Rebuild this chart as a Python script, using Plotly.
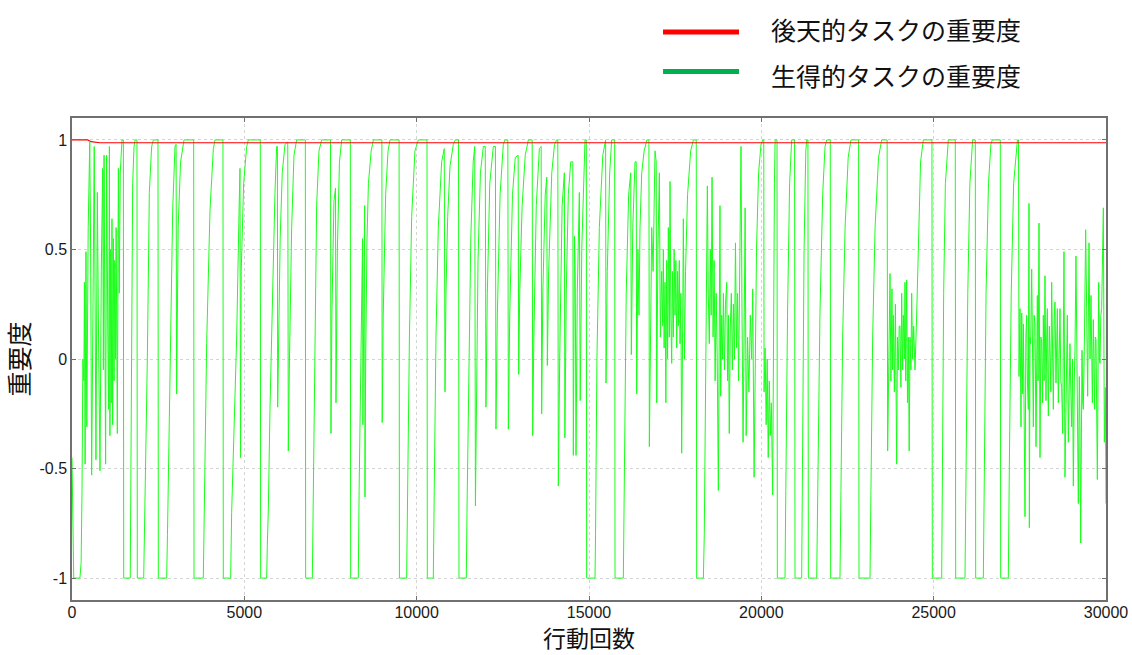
import plotly.graph_objects as go

# ---------------- text / ticks ----------------
X_TICKS = [0, 5000, 10000, 15000, 20000, 25000, 30000]
Y_TICKS = [-1, -0.5, 0, 0.5, 1]
Y_TICK_TEXT = ["-1", "-0.5", "0", "0.5", "1"]
X_TITLE = "行動回数"
Y_TITLE = "重要度"
NAME_ACQ = "後天的タスクの重要度"
NAME_INNATE = "生得的タスクの重要度"

# ---------------- acquired-task importance (red) ----------------
RED_X = [0, 450, 560, 800, 30000]
RED_Y = [1.0, 1.0, 0.992, 0.987, 0.987]

# ---------------- innate-task importance (green) ----------------
SEG_0_1500 = [(0, -0.45), (50, -1.0), (230, -1.0), (265, -0.93), (290, -0.6), (315, 0.0), (345, -0.1),
              (360, 0.35), (380, -0.48), (405, 0.49), (430, -0.31), (470, 0.6), (515, 0.99), (540, 0.5),
              (570, -0.53), (600, 0.2), (645, 0.97), (695, -0.46), (735, 0.76), (770, 0.1), (812, -0.51),
              (850, 0.4), (890, 0.87), (910, -0.05), (930, 0.93), (975, -0.48), (1005, 0.93), (1040, 0.1),
              (1064, -0.23), (1085, 0.97), (1100, -0.35), (1120, 0.5), (1140, -0.2), (1160, 0.64),
              (1180, -0.3), (1200, 0.55), (1220, -0.1), (1240, 0.45), (1260, 0.0), (1280, 0.6),
              (1315, -0.34), (1345, 0.87), (1370, 0.3), (1400, 0.85), (1430, 0.99), (1450, 1.0),
              (1490, 1.0), (1500, -1.0)]
SEG_1500_5500 = [(1690, -1.0), (1705, -0.5), (1730, 0.3), (1760, 0.8), (1800, 0.97), (1830, 1.0), (1885, 1.0),
                 (1895, -1.0), (2080, -1.0), (2118, -0.7), (2186, 0.0), (2244, 0.76), (2311, 0.97), (2360, 1.0),
                 (2495, 1.0), (2505, -1.0), (2747, -1.0), (2770, -0.8), (2795, -0.54), (2843, 0.07),
                 (2921, 0.68), (2988, 0.97), (3020, 0.98), (3035, -0.16), (3050, 0.2), (3080, 0.6),
                 (3150, 0.9), (3250, 1.0), (3530, 1.0), (3540, -1.0), (3810, -1.0), (3859, -0.54),
                 (3907, 0.07), (4004, 0.68), (4101, 0.96), (4149, 1.0), (4380, 1.0), (4390, -1.0),
                 (4603, -1.0), (4632, -0.7), (4681, -0.4), (4778, 0.1), (4850, 0.7), (4874, 0.87),
                 (4890, -0.45), (4910, 0.4), (4980, 0.8), (5068, 0.97), (5116, 1.0), (5463, 1.0), (5473, -1.0)]
SEG_5500_11300 = [(5648, -1.0), (5667, -0.85), (5696, -0.69), (5744, -0.23), (5822, 0.38), (5889, 0.76),
                  (5938, 0.97), (5960, 0.97), (5967, -0.22), (5990, 0.1), (6040, 0.55), (6100, 0.85),
                  (6180, 0.98), (6260, 0.99), (6276, -0.42), (6310, 0.0), (6373, 0.6), (6440, 0.93),
                  (6518, 1.0), (6770, 1.0), (6779, -1.0), (6973, -1.0), (7002, -0.6), (7050, 0.2),
                  (7098, 0.7), (7166, 0.95), (7243, 1.0), (7500, 1.0), (7514, -0.34), (7540, 0.2),
                  (7600, 0.72), (7645, 0.78), (7659, -0.2), (7700, 0.5), (7760, 0.9), (7824, 1.0),
                  (8075, 1.0), (8085, -1.0), (8307, -1.0), (8330, -0.6), (8380, 0.1), (8430, 0.55),
                  (8440, -0.3), (8460, 0.4), (8490, 0.7), (8500, -0.63), (8520, 0.0), (8560, 0.55),
                  (8600, 0.8), (8680, 0.95), (8742, 1.0), (8990, 1.0), (9000, -0.29), (9030, 0.2),
                  (9100, 0.75), (9170, 0.95), (9226, 1.0), (9490, 1.0), (9500, -1.0), (9709, -1.0),
                  (9740, -0.6), (9790, 0.1), (9855, 0.65), (9950, 0.95), (10048, 1.0), (10300, 1.0),
                  (10309, -1.0), (10483, -1.0), (10510, -0.6), (10560, 0.1), (10628, 0.6), (10725, 0.9),
                  (10800, 0.96), (10822, -0.15), (10850, 0.3), (10900, 0.65), (10967, 0.88), (11064, 0.98),
                  (11120, 1.0), (11215, 1.0), (11228, -1.0)]
SEG_11300_15000 = [(11440, -1.0), (11460, -0.7), (11510, 0.0), (11570, 0.55), (11640, 0.9), (11685, 0.97),
                   (11705, -0.67), (11730, -0.2), (11780, 0.45), (11850, 0.85), (11934, 0.97), (11990, 0.97),
                   (12010, -0.22), (12050, 0.3), (12120, 0.8), (12224, 0.97), (12285, 0.97), (12300, -0.32),
                   (12340, 0.2), (12420, 0.75), (12514, 0.98), (12563, 1.0), (12645, 1.0), (12660, -0.32),
                   (12700, 0.2), (12780, 0.75), (12860, 0.92), (12945, 0.93), (12960, -0.07), (12990, 0.3),
                   (13060, 0.7), (13150, 0.93), (13240, 1.0), (13352, 1.0), (13366, -0.35), (13400, 0.1),
                   (13470, 0.7), (13560, 0.96), (13612, 0.97), (13627, -0.25), (13660, 0.3), (13730, 0.75),
                   (13775, 0.83), (13791, -0.03), (13830, 0.4), (13920, 0.85), (14000, 0.98), (14062, 1.0),
                   (14095, 1.0), (14110, -0.58), (14150, 0.0), (14220, 0.7), (14285, 0.85), (14300, -0.36),
                   (14340, 0.3), (14400, 0.75), (14470, 0.9), (14530, 0.9), (14545, -0.44), (14580, 0.56),
                   (14600, 0.4), (14623, -0.44), (14660, 0.3), (14720, 0.76), (14745, -0.19), (14790, 0.5),
                   (14850, 0.9), (14884, 1.0), (14922, 1.0), (14932, -1.0)]
SEG_15000_20500 = [(15174, -1.0), (15190, -0.8), (15230, 0.0), (15300, 0.6), (15400, 0.93), (15464, 1.0),
                   (15482, 1.0), (15493, -0.11), (15530, 0.4), (15600, 0.85), (15658, 1.0), (15745, 1.0),
                   (15755, -1.0), (15996, -1.0), (16030, -0.5), (16080, 0.3), (16150, 0.75), (16210, 0.85),
                   (16228, 0.02), (16270, 0.6), (16335, 0.9), (16370, 0.9), (16383, -0.16), (16420, 0.5),
                   (16450, 0.2), (16480, 0.6), (16530, 0.85), (16600, 0.95), (16680, 1.0), (16738, 1.0),
                   (16751, -0.4), (16780, 0.0), (16820, 0.6), (16860, 0.4), (16915, 0.95), (16950, 0.9),
                   (16964, -0.2), (17000, 0.5), (17041, 0.85), (17070, 0.1), (17109, 0.4), (17140, 0.15),
                   (17157, 0.5), (17180, 0.05), (17205, 0.35), (17230, -0.2), (17254, 0.45), (17280, 0.0),
                   (17302, 0.6), (17330, 0.1), (17351, 0.81), (17375, 0.2), (17399, -0.02), (17420, 0.4),
                   (17447, 0.1), (17470, 0.5), (17496, 0.2), (17520, 0.45), (17544, 0.05), (17570, 0.4),
                   (17592, 0.15), (17620, 0.45), (17641, 0.07), (17665, 0.3), (17689, -0.43), (17720, 0.2),
                   (17737, 0.64), (17770, 0.0), (17800, 0.4), (17860, 0.75), (17950, 0.95), (18027, 1.0),
                   (18112, 1.0), (18124, -1.0), (18318, -1.0), (18345, -0.8), (18380, -0.1), (18410, 0.5),
                   (18434, 0.79), (18460, 0.3), (18490, 0.07), (18520, 0.5), (18545, 0.2), (18570, 0.83),
                   (18600, 0.1), (18630, 0.45), (18660, -0.1), (18690, 0.3), (18720, 0.0), (18753, -0.6),
                   (18780, 0.3), (18800, 0.7), (18820, -0.17), (18850, 0.2), (18880, 0.0), (18900, 0.3),
                   (18930, -0.05), (18960, 0.25), (18995, 0.35), (19020, -0.1), (19045, 0.2), (19070, -0.34),
                   (19100, 0.15), (19130, 0.3), (19160, -0.05), (19190, 0.25), (19220, 0.0), (19250, 0.53),
                   (19280, 0.05), (19310, 0.3), (19340, -0.1), (19381, 0.6), (19410, 0.97), (19440, 0.2),
                   (19470, -0.38), (19500, 0.1), (19530, 0.69), (19560, -0.35), (19600, 0.1), (19640, -0.15),
                   (19680, 0.2), (19720, 0.0), (19750, 0.32), (19790, -0.54), (19820, 0.0), (19860, 0.5),
                   (19920, 0.85), (19990, 0.98), (20040, 1.0), (20070, 1.0), (20080, -0.15), (20110, 0.05),
                   (20140, -0.3), (20170, 0.0), (20200, -0.45), (20230, -0.1), (20260, -0.35), (20290, -0.2),
                   (20329, -0.62), (20350, 0.2), (20380, 0.8), (20400, 1.0), (20455, 1.0), (20464, -1.0)]
SEG_20500_27500 = [(20687, -1.0), (20710, -0.6), (20760, 0.2), (20820, 0.8), (20880, 1.0), (20965, 1.0),
                   (20977, -1.0), (21170, -1.0), (21195, -0.4), (21240, 0.5), (21290, 0.95), (21316, 1.0),
                   (21352, 1.0), (21364, -1.0), (21606, -1.0), (21640, -0.6), (21700, 0.2), (21780, 0.75),
                   (21848, 0.97), (21896, 1.0), (22000, 1.0), (22011, -1.0), (22282, -1.0), (22310, -0.6),
                   (22360, 0.1), (22430, 0.6), (22520, 0.92), (22600, 1.0), (22822, 1.0), (22834, -1.0),
                   (23153, -1.0), (23180, -0.6), (23230, 0.1), (23300, 0.6), (23400, 0.92), (23491, 1.0),
                   (23650, 1.0), (23665, -0.42), (23700, 0.1), (23733, 0.39), (23760, -0.1), (23790, 0.32),
                   (23810, -0.05), (23830, 0.2), (23860, -0.15), (23890, 0.25), (23926, -0.48), (23950, 0.1),
                   (23975, -0.05), (24000, 0.15), (24023, 0.15), (24050, -0.13), (24072, 0.3), (24100, -0.05),
                   (24120, 0.2), (24150, 0.0), (24168, 0.35), (24190, -0.1), (24217, 0.36), (24240, -0.2),
                   (24265, 0.1), (24290, -0.42), (24313, 0.1), (24340, -0.05), (24362, 0.3), (24390, 0.0),
                   (24420, 0.15), (24458, -0.05), (24507, 0.2), (24560, 0.6), (24620, 0.9), (24700, 1.0),
                   (24950, 1.0), (24961, -1.0), (25232, -1.0), (25255, -0.5), (25290, 0.3), (25340, 0.8),
                   (25400, 0.98), (25425, 1.0), (25627, 1.0), (25638, -1.0), (25909, -1.0), (25940, -0.5),
                   (25990, 0.3), (26050, 0.8), (26103, 0.98), (26130, 1.0), (26208, 1.0), (26219, -1.0),
                   (26441, -1.0), (26470, -0.5), (26520, 0.3), (26590, 0.8), (26660, 0.98), (26700, 1.0),
                   (26933, 1.0), (26944, -1.0), (27166, -1.0), (27195, -0.5), (27250, 0.3), (27320, 0.8),
                   (27400, 0.98), (27430, 1.0), (27462, 1.0), (27476, -0.08)]
SEG_27500_30000 = [(27505, 0.23), (27534, -0.31), (27555, 0.21), (27584, -0.16), (27603, 0.16), (27622, -0.32),
                   (27650, -0.72), (27675, 0.1), (27698, 0.2), (27720, -0.1), (27747, -0.23), (27766, 0.71),
                   (27776, -0.77), (27795, 0.1), (27815, 0.07), (27844, 0.41), (27870, -0.1), (27892, -0.31),
                   (27915, 0.2), (27940, 0.16), (27969, -0.4), (27990, 0.1), (28008, 0.29), (28030, -0.1),
                   (28056, 0.62), (28085, -0.45), (28110, 0.1), (28134, 0.07), (28160, -0.2), (28182, 0.2),
                   (28205, -0.1), (28230, 0.38), (28259, -0.19), (28280, 0.1), (28298, 0.23), (28327, -0.26),
                   (28356, 0.15), (28375, 0.04), (28400, -0.15), (28424, 0.35), (28450, 0.0), (28472, -0.23),
                   (28500, 0.2), (28520, 0.26), (28549, -0.11), (28570, 0.1), (28588, 0.23), (28617, -0.2),
                   (28640, 0.1), (28665, 0.23), (28690, -0.1), (28714, -0.13), (28743, -0.34), (28781, 0.49),
                   (28810, -0.54), (28839, -0.2), (28860, 0.05), (28878, 0.2), (28907, -0.38), (28930, 0.0),
                   (28955, 0.07), (28980, -0.15), (29004, -0.31), (29030, 0.0), (29052, -0.58), (29080, -0.1),
                   (29100, 0.04), (29129, 0.47), (29168, -0.38), (29197, -0.66), (29226, -0.08), (29245, -0.3),
                   (29265, -0.84), (29304, 0.04), (29325, -0.2), (29342, -0.23), (29375, 0.1), (29410, 0.59),
                   (29439, 0.23), (29468, -0.17), (29507, 0.53), (29536, 0.0), (29565, 0.29), (29604, -0.2),
                   (29632, 0.18), (29671, -0.23), (29690, 0.1), (29710, 0.09), (29749, -0.55), (29787, 0.35),
                   (29810, 0.0), (29826, -0.02), (29850, 0.2), (29874, 0.23), (29923, 0.69), (29952, -0.38),
                   (29981, -0.13), (30000, -0.66)]

GREEN_SEGMENTS = [SEG_0_1500, SEG_1500_5500, SEG_5500_11300, SEG_11300_15000,
                  SEG_15000_20500, SEG_20500_27500, SEG_27500_30000]
green_x = [p[0] for seg in GREEN_SEGMENTS for p in seg]
green_y = [p[1] for seg in GREEN_SEGMENTS for p in seg]

# ---------------- styles ----------------
PLOT_GREEN = "#1aff1a"
LEGEND_GREEN = "#00b050"
RED = "#ff0000"
FRAME = "#707070"
GRID = "#d4d4d4"
TICK_FONT = dict(family="Liberation Sans, Arial, sans-serif", size=16, color="#1a1a1a")
CJK = "Noto Sans CJK JP, Noto Sans CJK SC, sans-serif"

fig = go.Figure()
fig.add_trace(go.Scatter(x=green_x, y=green_y, mode="lines", name=NAME_INNATE,
                         line=dict(color=PLOT_GREEN, width=1), showlegend=False))
fig.add_trace(go.Scatter(x=RED_X, y=RED_Y, mode="lines", name=NAME_ACQ,
                         line=dict(color=RED, width=1.1), showlegend=False))

axis_common = dict(showline=True, linecolor=FRAME, linewidth=1.5, mirror="ticks",
                   ticks="inside", ticklen=4, tickwidth=1, tickcolor=FRAME,
                   showgrid=True, gridcolor=GRID, gridwidth=1, griddash="dot",
                   zeroline=False, tickfont=TICK_FONT, automargin=False)

fig.update_xaxes(range=[0, 30000], tickvals=X_TICKS, ticktext=[str(v) for v in X_TICKS],
                 ticklabelstandoff=-3, **axis_common)
fig.update_yaxes(range=[-1.1, 1.1], tickvals=Y_TICKS, ticktext=Y_TICK_TEXT,
                 title=dict(text=Y_TITLE, font=dict(family=CJK, size=25, color="#111"), standoff=5),
                 **axis_common)

# x-axis title placed just below the tick labels, resting on the bottom edge
fig.add_annotation(text=X_TITLE, xref="paper", yref="paper", x=0.5, y=-55 / 482,
                   xanchor="center", yanchor="bottom", showarrow=False, borderpad=0,
                   font=dict(family=CJK, size=23, color="#111"))

# legend drawn at the top right (long line samples as in the original)
legend_items = [(NAME_ACQ, RED, 1.1784, 1.1846), (NAME_INNATE, LEGEND_GREEN, 1.0965, 1.0892)]
for label, col, y_line, y_text in legend_items:
    fig.add_shape(type="line", xref="paper", yref="paper", x0=0.5716, x1=0.6451,
                  y0=y_line, y1=y_line, line=dict(color=col, width=5))
    fig.add_annotation(text=label, xref="paper", yref="paper", x=0.674, y=y_text,
                       xanchor="left", yanchor="middle", showarrow=False,
                       font=dict(family=CJK, size=25, color="#111"))

fig.update_layout(width=1132, height=655, margin=dict(l=72, r=26, t=118, b=55),
                  plot_bgcolor="white", paper_bgcolor="white", showlegend=False)

fig.write_html("out.html")
